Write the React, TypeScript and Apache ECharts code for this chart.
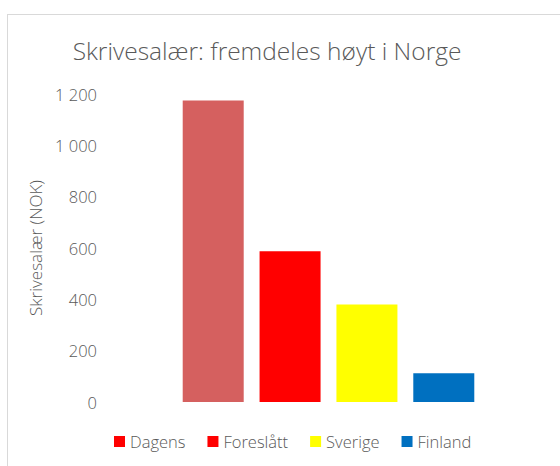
import React, { useEffect, useRef } from "react";
import * as echarts from "echarts";

const categories = ["Skrivesalær"];
const seriesNames = ["Dagens", "Foreslått", "Sverige", "Finland"];
const seriesValues = [1175, 587, 380, 112];
const seriesColors = ["#FF0000", "#FF0000", "#FFFF00", "#0070C0"];
const barColors = ["#D5605F", "#FF0000", "#FFFF00", "#0070C0"];
const yTicks = { min: 0, max: 1200, interval: 200 };
const titleText = "Skrivesalær: fremdeles høyt i Norge";
const yAxisName = "Skrivesalær (NOK)";

const FONT = "'Open Sans', 'Noto Sans', sans-serif";
const TXT = "#595959";

export default function App() {
  const ref = useRef<HTMLDivElement>(null);
  useEffect(() => {
    if (!ref.current) return;
    const chart = echarts.init(ref.current, null, { renderer: "svg" });
    chart.setOption({
      animation: false,
      backgroundColor: "#ffffff",
      textStyle: { fontFamily: FONT },
      graphic: [
        { type: "line", shape: { x1: 7, y1: 14.5, x2: 560, y2: 14.5 }, style: { stroke: "#D9D9D9", lineWidth: 1 } },
        { type: "line", shape: { x1: 7.5, y1: 14, x2: 7.5, y2: 466 }, style: { stroke: "#D9D9D9", lineWidth: 1 } },
        {
          type: "text",
          x: 267,
          y: 50,
          style: {
            text: titleText,
            fontFamily: FONT,
            fontSize: 24.5,
            fontWeight: 300,
            fill: TXT,
            align: "center",
            verticalAlign: "middle",
          },
        },
      ],
      legend: {
        data: seriesNames,
        left: 114,
        top: 433,
        icon: "rect",
        itemWidth: 11,
        itemHeight: 11,
        itemGap: 22,
        itemStyle: { borderWidth: 0 },
        textStyle: { fontFamily: FONT, fontSize: 16.5, fontWeight: 300, color: TXT, padding: [0, 0, 0, 0] },
        padding: 0,
      },
      grid: { left: 108, right: 11, top: 94, bottom: 64 },
      xAxis: {
        type: "category",
        data: categories,
        axisLine: { show: false },
        axisTick: { show: false },
        axisLabel: { show: false },
      },
      yAxis: {
        type: "value",
        min: yTicks.min,
        max: yTicks.max,
        interval: yTicks.interval,
        name: yAxisName,
        nameLocation: "middle",
        nameGap: 62,
        nameTextStyle: { fontFamily: FONT, fontSize: 17, fontWeight: 300, color: TXT },
        axisLine: { show: false },
        axisTick: { show: false },
        splitLine: { show: false },
        axisLabel: {
          fontFamily: FONT,
          fontSize: 16.5,
          fontWeight: 300,
          color: TXT,
          margin: 11,
          formatter: (v: number) => String(v).replace(/\B(?=(\d{3})+(?!\d))/g, " "),
        },
      },
      series: seriesNames.map((name, i) => ({
        name,
        type: "bar",
        barWidth: 61,
        barGap: "26%",
        itemStyle: { color: seriesColors[i] },
        data: [{ value: seriesValues[i], itemStyle: { color: barColors[i] } }],
      })),
    });
    return () => chart.dispose();
  }, []);
  return (
    <div
      ref={ref}
      style={{ position: "fixed", left: 0, top: 0, width: 560, height: 466 }}
    />
  );
}
